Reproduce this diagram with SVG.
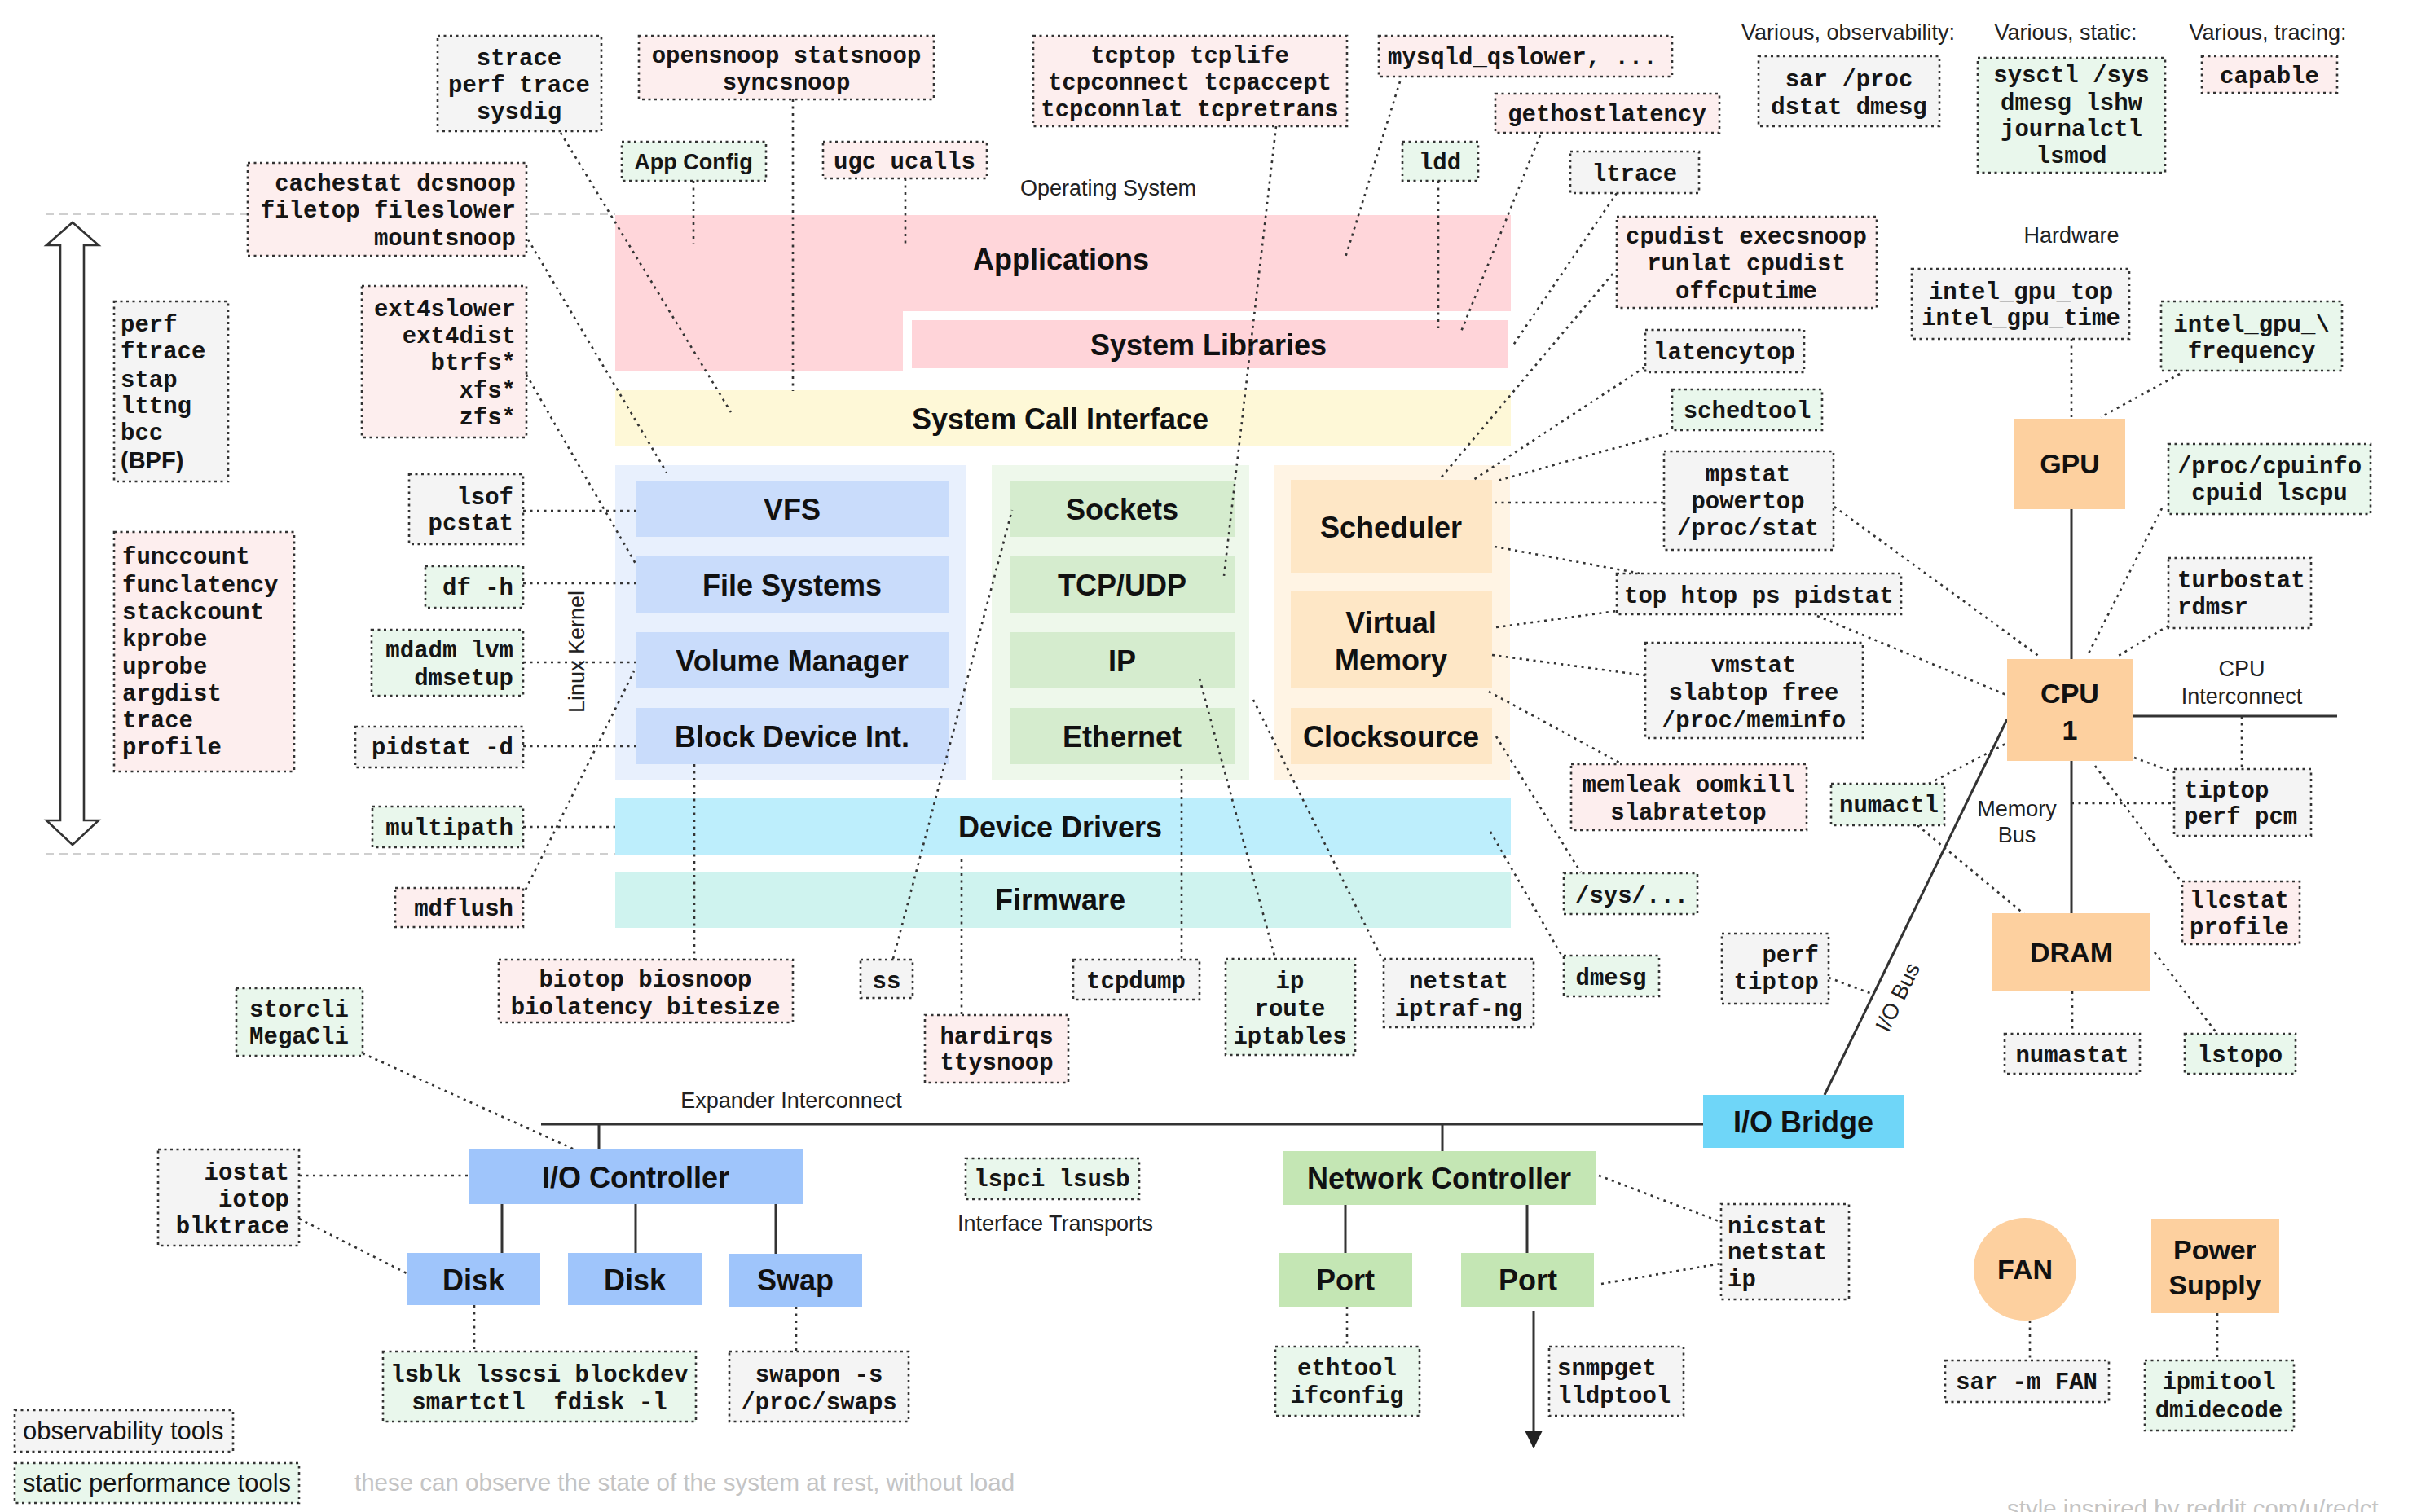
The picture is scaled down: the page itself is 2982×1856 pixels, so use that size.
<svg xmlns="http://www.w3.org/2000/svg" width="2982" height="1856" viewBox="0 0 2982 1856">
<defs>
<style>
.m{font-family:"Liberation Mono","Courier New",monospace;font-weight:bold;font-size:29px;fill:#151515}
.L{font-family:"Liberation Sans",Arial,sans-serif;font-weight:bold;font-size:36px;fill:#111;text-anchor:middle}
.H{font-family:"Liberation Sans",Arial,sans-serif;font-weight:bold;font-size:34px;fill:#111;text-anchor:middle}
.s{font-family:"Liberation Sans",Arial,sans-serif;font-size:27px;fill:#222;text-anchor:middle}
.g{font-family:"Liberation Sans",Arial,sans-serif;font-size:29.5px;fill:#c4c4c4}
.lg{font-family:"Liberation Sans",Arial,sans-serif;font-size:31px;fill:#151515}
.mid{text-anchor:middle}.end{text-anchor:end}
.obs{fill:#f4f4f4;stroke:#333;stroke-width:2.6;stroke-dasharray:3 4.5}
.trc{fill:#fdeeee;stroke:#333;stroke-width:2.6;stroke-dasharray:3 4.5}
.sta{fill:#e9f7ec;stroke:#333;stroke-width:2.6;stroke-dasharray:3 4.5}
.c{fill:none;stroke:#333;stroke-width:2.6;stroke-dasharray:3 5.5}
.w{fill:none;stroke:#333;stroke-width:3}
.dg{fill:none;stroke:#cfcfcf;stroke-width:2;stroke-dasharray:10 7}
.og{fill:#fdd09f}
</style>
<marker id="ah" viewBox="0 0 10 10" refX="9" refY="5" markerWidth="7" markerHeight="7" orient="auto"><path d="M0,0 L10,5 L0,10 Z" fill="#222"/></marker>
</defs>
<rect width="2982" height="1856" fill="#ffffff"/>

<!-- background guides -->
<g id="guides">
<line class="dg" x1="56" y1="263" x2="755" y2="263"/>
<line class="dg" x1="56" y1="1048" x2="755" y2="1048"/>
<polygon points="89,273 121,301 103,301 103,1007 121,1007 89,1037 57,1007 74,1007 74,301 57,301" fill="#fff" stroke="#333" stroke-width="2.6"/>
</g>

<!-- OS layers -->
<g id="applications"><path d="M755,264 H1854 V382 H1108 V455 H755 Z" fill="#ffd6da"/><text class="L" x="1302" y="331">Applications</text></g>
<g id="system-libraries"><rect x="1119" y="393" width="731" height="59" fill="#ffd4d9"/><text class="L" x="1483" y="436">System Libraries</text></g>
<g id="syscall"><rect x="755" y="479" width="1099" height="69" fill="#fef8d7"/><text class="L" x="1301" y="527">System Call Interface</text></g>
<g id="vfs-group"><rect x="755" y="571" width="430" height="387" fill="#e8f0fd"/></g>
<g id="net-group"><rect x="1217" y="571" width="316" height="387" fill="#eef8eb"/></g>
<g id="sched-group"><rect x="1563" y="571" width="290" height="387" fill="#fff4e4"/></g>
<g id="vfs"><rect x="780" y="590" width="384" height="69" fill="#c9dcfb"/><text class="L" x="972" y="638">VFS</text></g>
<g id="file-systems"><rect x="780" y="683" width="384" height="69" fill="#c9dcfb"/><text class="L" x="972" y="731">File Systems</text></g>
<g id="volume-manager"><rect x="780" y="776" width="384" height="69" fill="#c9dcfb"/><text class="L" x="972" y="824">Volume Manager</text></g>
<g id="block-device"><rect x="780" y="869" width="384" height="69" fill="#c9dcfb"/><text class="L" x="972" y="917">Block Device Int.</text></g>
<g id="sockets"><rect x="1239" y="590" width="276" height="69" fill="#d5ecce"/><text class="L" x="1377" y="638">Sockets</text></g>
<g id="tcpudp"><rect x="1239" y="683" width="276" height="69" fill="#d5ecce"/><text class="L" x="1377" y="731">TCP/UDP</text></g>
<g id="ip"><rect x="1239" y="776" width="276" height="69" fill="#d5ecce"/><text class="L" x="1377" y="824">IP</text></g>
<g id="ethernet"><rect x="1239" y="869" width="276" height="69" fill="#d5ecce"/><text class="L" x="1377" y="917">Ethernet</text></g>
<g id="scheduler"><rect x="1584" y="589" width="247" height="114" fill="#fee7c6"/><text class="L" x="1707" y="660">Scheduler</text></g>
<g id="virtual-memory"><rect x="1584" y="726" width="247" height="119" fill="#fee7c6"/><text class="L" x="1707" y="777">Virtual</text><text class="L" x="1707" y="823">Memory</text></g>
<g id="clocksource"><rect x="1584" y="869" width="247" height="69" fill="#fee7c6"/><text class="L" x="1707" y="917">Clocksource</text></g>
<g id="device-drivers"><rect x="755" y="980" width="1099" height="69" fill="#bdeefc"/><text class="L" x="1301" y="1028">Device Drivers</text></g>
<g id="firmware"><rect x="755" y="1070" width="1099" height="69" fill="#cff3ef"/><text class="L" x="1301" y="1117">Firmware</text></g>

<!-- connectors -->
<g id="connectors">
<line class="c" x1="688" y1="163" x2="897" y2="506"/>
<line class="c" x1="648" y1="294" x2="818" y2="580"/>
<line class="c" x1="646" y1="460" x2="780" y2="692"/>
<line class="c" x1="642" y1="627" x2="780" y2="627"/>
<line class="c" x1="642" y1="716" x2="780" y2="716"/>
<line class="c" x1="642" y1="813" x2="780" y2="813"/>
<line class="c" x1="642" y1="916" x2="780" y2="916"/>
<line class="c" x1="642" y1="1015" x2="755" y2="1015"/>
<line class="c" x1="645" y1="1092" x2="778" y2="824"/>
<line class="c" x1="973" y1="122" x2="973" y2="480"/>
<line class="c" x1="851" y1="222" x2="851" y2="300"/>
<line class="c" x1="1111" y1="219" x2="1111" y2="304"/>
<line class="c" x1="1566" y1="155" x2="1502" y2="707"/>
<line class="c" x1="1718" y1="100" x2="1651" y2="316"/>
<line class="c" x1="1890" y1="166" x2="1793" y2="407"/>
<line class="c" x1="1765" y1="222" x2="1765" y2="403"/>
<line class="c" x1="1984" y1="237" x2="1856" y2="425"/>
<line class="c" x1="1979" y1="336" x2="1766" y2="589"/>
<line class="c" x1="2018" y1="451" x2="1805" y2="591"/>
<line class="c" x1="2047" y1="532" x2="1834" y2="591"/>
<line class="c" x1="1834" y1="617" x2="2042" y2="617"/>
<line class="c" x1="1834" y1="671" x2="2013" y2="704"/>
<line class="c" x1="1836" y1="770" x2="1984" y2="750"/>
<line class="c" x1="1831" y1="804" x2="2019" y2="829"/>
<line class="c" x1="1827" y1="849" x2="1989" y2="937"/>
<line class="c" x1="1836" y1="904" x2="1940" y2="1071"/>
<line class="c" x1="1829" y1="1021" x2="1916" y2="1172"/>
<line class="c" x1="1472" y1="833" x2="1565" y2="1177"/>
<line class="c" x1="1538" y1="859" x2="1696" y2="1177"/>
<line class="c" x1="1450" y1="944" x2="1450" y2="1178"/>
<line class="c" x1="1096" y1="1177" x2="1242" y2="626"/>
<line class="c" x1="852" y1="938" x2="852" y2="1178"/>
<line class="c" x1="1180" y1="1055" x2="1180" y2="1246"/>
<line class="c" x1="445" y1="1293" x2="705" y2="1411"/>
<line class="c" x1="367" y1="1443" x2="575" y2="1443"/>
<line class="c" x1="367" y1="1496" x2="499" y2="1563"/>
<line class="c" x1="582" y1="1602" x2="582" y2="1659"/>
<line class="c" x1="977" y1="1604" x2="977" y2="1659"/>
<line class="c" x1="1653" y1="1604" x2="1653" y2="1653"/>
<line class="c" x1="1962" y1="1443" x2="2112" y2="1500"/>
<line class="c" x1="1965" y1="1576" x2="2112" y2="1551"/>
<line class="c" x1="2251" y1="622" x2="2503" y2="806"/>
<line class="c" x1="2230" y1="756" x2="2462" y2="853"/>
<line class="c" x1="2542" y1="416" x2="2542" y2="512"/>
<line class="c" x1="2675" y1="459" x2="2578" y2="512"/>
<line class="c" x1="2653" y1="624" x2="2561" y2="806"/>
<line class="c" x1="2661" y1="768" x2="2598" y2="806"/>
<line class="c" x1="2619" y1="930" x2="2668" y2="948"/>
<line class="c" x1="2751" y1="879" x2="2751" y2="944"/>
<line class="c" x1="2542" y1="986" x2="2668" y2="986"/>
<line class="c" x1="2367" y1="962" x2="2463" y2="912"/>
<line class="c" x1="2353" y1="1013" x2="2484" y2="1122"/>
<line class="c" x1="2571" y1="940" x2="2675" y2="1080"/>
<line class="c" x1="2543" y1="1217" x2="2543" y2="1269"/>
<line class="c" x1="2644" y1="1169" x2="2721" y2="1269"/>
<line class="c" x1="2491" y1="1621" x2="2491" y2="1670"/>
<line class="c" x1="2721" y1="1612" x2="2721" y2="1670"/>
<line class="c" x1="2244" y1="1200" x2="2297" y2="1220"/>
<line class="w" x1="2542" y1="625" x2="2542" y2="809"/>
<line class="w" x1="2542" y1="934" x2="2542" y2="1121"/>
<line class="w" x1="2617" y1="879" x2="2868" y2="879"/>
<line class="w" x1="2463" y1="883" x2="2239" y2="1344"/>
<line class="w" x1="664" y1="1380" x2="2090" y2="1380"/>
<line class="w" x1="735" y1="1380" x2="735" y2="1411"/>
<line class="w" x1="1770" y1="1380" x2="1770" y2="1413"/>
<line class="w" x1="616" y1="1478" x2="616" y2="1538"/>
<line class="w" x1="780" y1="1478" x2="780" y2="1538"/>
<line class="w" x1="952" y1="1478" x2="952" y2="1539"/>
<line class="w" x1="1651" y1="1479" x2="1651" y2="1538"/>
<line class="w" x1="1874" y1="1479" x2="1874" y2="1538"/>
<line class="w" x1="1882" y1="1609" x2="1882" y2="1776" marker-end="url(#ah)"/>
</g>

<!-- hardware nodes -->
<g id="io-controller"><rect x="575" y="1411" width="411" height="67" fill="#9fc5fb"/><text class="L" x="780" y="1458">I/O Controller</text></g>
<g id="disk1"><rect x="499" y="1538" width="164" height="64" fill="#9fc5fb"/><text class="L" x="581" y="1584">Disk</text></g>
<g id="disk2"><rect x="697" y="1538" width="164" height="64" fill="#9fc5fb"/><text class="L" x="779" y="1584">Disk</text></g>
<g id="swap"><rect x="894" y="1539" width="164" height="65" fill="#9fc5fb"/><text class="L" x="976" y="1584">Swap</text></g>
<g id="network-controller"><rect x="1574" y="1413" width="384" height="66" fill="#c4e6b4"/><text class="L" x="1766" y="1459">Network Controller</text></g>
<g id="port1"><rect x="1569" y="1538" width="164" height="66" fill="#c4e6b4"/><text class="L" x="1651" y="1584">Port</text></g>
<g id="port2"><rect x="1793" y="1538" width="163" height="66" fill="#c4e6b4"/><text class="L" x="1875" y="1584">Port</text></g>
<g id="io-bridge"><rect x="2090" y="1344" width="247" height="65" fill="#6fd6f8"/><text class="L" x="2213" y="1390">I/O Bridge</text></g>
<g id="gpu"><rect class="og" x="2472" y="514" width="136" height="111"/><text class="H" x="2540" y="581">GPU</text></g>
<g id="cpu"><rect class="og" x="2463" y="809" width="154" height="125"/><text class="H" x="2540" y="863">CPU</text><text class="H" x="2540" y="908">1</text></g>
<g id="dram"><rect class="og" x="2445" y="1121" width="194" height="96"/><text class="H" x="2542" y="1181">DRAM</text></g>
<g id="fan"><circle class="og" cx="2485" cy="1558" r="63"/><text class="H" x="2485" y="1570">FAN</text></g>
<g id="power-supply"><rect class="og" x="2640" y="1496" width="157" height="116"/><text class="H" x="2718" y="1546">Power</text><text class="H" x="2718" y="1589">Supply</text></g>

<!-- labels -->
<g id="labels">
<text class="s" x="1360" y="240">Operating System</text>
<text class="s" x="2542" y="298">Hardware</text>
<text class="s" x="2268" y="49">Various, observability:</text>
<text class="s" x="2535" y="49">Various, static:</text>
<text class="s" x="2783" y="49">Various, tracing:</text>
<text class="s" x="2751" y="830">CPU</text>
<text class="s" x="2751" y="864">Interconnect</text>
<text class="s" x="2475" y="1002">Memory</text>
<text class="s" x="2475" y="1034">Bus</text>
<text class="s" x="971" y="1360">Expander Interconnect</text>
<text class="s" x="1295" y="1511">Interface Transports</text>
<text class="s" transform="translate(717,800) rotate(-90)">Linux Kernel</text>
<text class="s" transform="translate(2337,1228) rotate(-64)">I/O Bus</text>
<text class="g" x="435" y="1830">these can observe the state of the system at rest, without load</text>
<text class="g" x="2463" y="1862">style inspired by reddit.com/u/redct</text>
</g>

<!-- tool boxes -->
<g id="t-strace"><rect class="obs" x="537" y="44" width="201" height="117"/><text class="m mid" x="637" y="80">strace</text><text class="m mid" x="637" y="113">perf trace</text><text class="m mid" x="637" y="146">sysdig</text></g>
<g id="t-opensnoop"><rect class="trc" x="784" y="44" width="362" height="78"/><text class="m mid" x="965" y="77">opensnoop statsnoop</text><text class="m mid" x="965" y="110">syncsnoop</text></g>
<g id="t-tcptop"><rect class="trc" x="1268" y="44" width="385" height="111"/><text class="m mid" x="1460" y="77">tcptop tcplife</text><text class="m mid" x="1460" y="110">tcpconnect tcpaccept</text><text class="m mid" x="1460" y="143">tcpconnlat tcpretrans</text></g>
<g id="t-mysqld"><rect class="trc" x="1692" y="44" width="360" height="50"/><text class="m" x="1703" y="79">mysqld_qslower, ...</text></g>
<g id="t-gethostlatency"><rect class="trc" x="1835" y="115" width="275" height="48"/><text class="m mid" x="1972" y="149">gethostlatency</text></g>
<g id="t-ldd"><rect class="sta" x="1721" y="174" width="93" height="48"/><text class="m mid" x="1767" y="208">ldd</text></g>
<g id="t-ltrace"><rect class="obs" x="1927" y="186" width="158" height="51"/><text class="m mid" x="2006" y="222">ltrace</text></g>
<g id="t-cpudist"><rect class="trc" x="1984" y="266" width="319" height="112"/><text class="m mid" x="2143" y="299">cpudist execsnoop</text><text class="m mid" x="2143" y="332">runlat cpudist</text><text class="m mid" x="2143" y="366">offcputime</text></g>
<g id="t-latencytop"><rect class="obs" x="2019" y="405" width="195" height="52"/><text class="m mid" x="2116" y="441">latencytop</text></g>
<g id="t-schedtool"><rect class="sta" x="2052" y="478" width="184" height="50"/><text class="m mid" x="2144" y="513">schedtool</text></g>
<g id="t-mpstat"><rect class="obs" x="2042" y="554" width="208" height="121"/><text class="m mid" x="2145" y="591">mpstat</text><text class="m mid" x="2145" y="624">powertop</text><text class="m mid" x="2145" y="657">/proc/stat</text></g>
<g id="t-top"><rect class="obs" x="1984" y="704" width="349" height="50"/><text class="m" x="1993" y="740">top htop ps pidstat</text></g>
<g id="t-vmstat"><rect class="obs" x="2019" y="789" width="267" height="117"/><text class="m mid" x="2152" y="825">vmstat</text><text class="m mid" x="2152" y="859">slabtop free</text><text class="m mid" x="2152" y="893">/proc/meminfo</text></g>
<g id="t-memleak"><rect class="trc" x="1928" y="938" width="289" height="81"/><text class="m mid" x="2072" y="972">memleak oomkill</text><text class="m mid" x="2072" y="1006">slabratetop</text></g>
<g id="t-sys"><rect class="sta" x="1919" y="1072" width="164" height="50"/><text class="m" x="1933" y="1108">/sys/...</text></g>
<g id="t-dmesg"><rect class="sta" x="1919" y="1173" width="117" height="50"/><text class="m mid" x="1977" y="1209">dmesg</text></g>
<g id="t-perftiptop"><rect class="obs" x="2113" y="1146" width="131" height="86"/><text class="m end" x="2232" y="1181">perf</text><text class="m end" x="2232" y="1214">tiptop</text></g>
<g id="t-sar"><rect class="obs" x="2158" y="69" width="222" height="86"/><text class="m mid" x="2269" y="106">sar /proc</text><text class="m mid" x="2269" y="140">dstat dmesg</text></g>
<g id="t-sysctl"><rect class="sta" x="2427" y="71" width="230" height="141"/><text class="m mid" x="2542" y="101">sysctl /sys</text><text class="m mid" x="2542" y="135">dmesg lshw</text><text class="m mid" x="2542" y="167">journalctl</text><text class="m mid" x="2542" y="200">lsmod</text></g>
<g id="t-capable"><rect class="trc" x="2702" y="69" width="166" height="45"/><text class="m mid" x="2785" y="102">capable</text></g>
<g id="t-intelgputop"><rect class="obs" x="2346" y="330" width="267" height="86"/><text class="m mid" x="2480" y="367">intel_gpu_top</text><text class="m mid" x="2480" y="399">intel_gpu_time</text></g>
<g id="t-intelgpufreq"><rect class="sta" x="2652" y="370" width="222" height="85"/><text class="m mid" x="2763" y="407">intel_gpu_\</text><text class="m mid" x="2763" y="440">frequency</text></g>
<g id="t-cpuinfo"><rect class="sta" x="2661" y="545" width="248" height="86"/><text class="m mid" x="2785" y="581">/proc/cpuinfo</text><text class="m mid" x="2785" y="614">cpuid lscpu</text></g>
<g id="t-turbostat"><rect class="obs" x="2661" y="685" width="175" height="86"/><text class="m" x="2672" y="721">turbostat</text><text class="m" x="2672" y="754">rdmsr</text></g>
<g id="t-tiptop"><rect class="obs" x="2668" y="944" width="168" height="82"/><text class="m" x="2680" y="979">tiptop</text><text class="m" x="2680" y="1011">perf pcm</text></g>
<g id="t-llcstat"><rect class="trc" x="2678" y="1082" width="144" height="77"/><text class="m" x="2687" y="1114">llcstat</text><text class="m" x="2687" y="1147">profile</text></g>
<g id="t-numactl"><rect class="sta" x="2247" y="962" width="139" height="51"/><text class="m" x="2257" y="997">numactl</text></g>
<g id="t-numastat"><rect class="obs" x="2460" y="1269" width="166" height="49"/><text class="m mid" x="2543" y="1304">numastat</text></g>
<g id="t-lstopo"><rect class="sta" x="2681" y="1269" width="136" height="49"/><text class="m mid" x="2749" y="1304">lstopo</text></g>
<g id="t-sarfan"><rect class="obs" x="2387" y="1670" width="201" height="51"/><text class="m mid" x="2487" y="1705">sar -m FAN</text></g>
<g id="t-ipmitool"><rect class="sta" x="2632" y="1670" width="183" height="86"/><text class="m mid" x="2723" y="1705">ipmitool</text><text class="m mid" x="2723" y="1740">dmidecode</text></g>
<g id="t-nicstat"><rect class="obs" x="2112" y="1478" width="157" height="117"/><text class="m" x="2120" y="1514">nicstat</text><text class="m" x="2120" y="1546">netstat</text><text class="m" x="2120" y="1579">ip</text></g>
<g id="t-snmpget"><rect class="obs" x="1901" y="1653" width="165" height="85"/><text class="m" x="1911" y="1688">snmpget</text><text class="m" x="1911" y="1722">lldptool</text></g>
<g id="t-ethtool"><rect class="sta" x="1565" y="1653" width="177" height="85"/><text class="m mid" x="1653" y="1688">ethtool</text><text class="m mid" x="1653" y="1722">ifconfig</text></g>
<g id="t-lspci"><rect class="sta" x="1185" y="1422" width="213" height="50"/><text class="m mid" x="1291" y="1456">lspci lsusb</text></g>
<g id="t-swapon"><rect class="obs" x="895" y="1659" width="220" height="86"/><text class="m mid" x="1005" y="1696">swapon -s</text><text class="m mid" x="1005" y="1730">/proc/swaps</text></g>
<g id="t-lsblk"><rect class="sta" x="470" y="1659" width="384" height="86"/><text class="m mid" x="662" y="1696">lsblk lsscsi blockdev</text><text class="m mid" x="662" y="1730" xml:space="preserve">smartctl  fdisk -l</text></g>
<g id="t-iostat"><rect class="obs" x="194" y="1411" width="173" height="118"/><text class="m end" x="355" y="1448">iostat</text><text class="m end" x="355" y="1481">iotop</text><text class="m end" x="355" y="1514">blktrace</text></g>
<g id="t-storcli"><rect class="sta" x="290" y="1213" width="155" height="83"/><text class="m mid" x="367" y="1248">storcli</text><text class="m mid" x="367" y="1281">MegaCli</text></g>
<g id="t-biotop"><rect class="trc" x="612" y="1178" width="361" height="77"/><text class="m mid" x="792" y="1211">biotop biosnoop</text><text class="m mid" x="792" y="1245">biolatency bitesize</text></g>
<g id="t-ss"><rect class="obs" x="1056" y="1178" width="64" height="47"/><text class="m mid" x="1088" y="1213">ss</text></g>
<g id="t-tcpdump"><rect class="obs" x="1317" y="1178" width="155" height="49"/><text class="m mid" x="1394" y="1213">tcpdump</text></g>
<g id="t-iproute"><rect class="sta" x="1504" y="1177" width="159" height="118"/><text class="m mid" x="1583" y="1213">ip</text><text class="m mid" x="1583" y="1247">route</text><text class="m mid" x="1583" y="1281">iptables</text></g>
<g id="t-netstat"><rect class="obs" x="1698" y="1177" width="184" height="84"/><text class="m mid" x="1790" y="1213">netstat</text><text class="m mid" x="1790" y="1247">iptraf-ng</text></g>
<g id="t-hardirqs"><rect class="trc" x="1135" y="1246" width="176" height="83"/><text class="m mid" x="1223" y="1281">hardirqs</text><text class="m mid" x="1223" y="1313">ttysnoop</text></g>
<g id="t-mdflush"><rect class="trc" x="485" y="1090" width="157" height="48"/><text class="m end" x="630" y="1124">mdflush</text></g>
<g id="t-multipath"><rect class="sta" x="457" y="990" width="185" height="50"/><text class="m end" x="630" y="1025">multipath</text></g>
<g id="t-pidstat"><rect class="obs" x="436" y="892" width="206" height="50"/><text class="m end" x="630" y="926">pidstat -d</text></g>
<g id="t-mdadm"><rect class="sta" x="456" y="773" width="186" height="81"/><text class="m end" x="630" y="807">mdadm lvm</text><text class="m end" x="630" y="841">dmsetup</text></g>
<g id="t-df"><rect class="sta" x="522" y="695" width="120" height="51"/><text class="m end" x="630" y="730">df -h</text></g>
<g id="t-lsof"><rect class="obs" x="502" y="582" width="140" height="86"/><text class="m end" x="630" y="619">lsof</text><text class="m end" x="630" y="651">pcstat</text></g>
<g id="t-ext4"><rect class="trc" x="444" y="351" width="202" height="186"/><text class="m end" x="633" y="388">ext4slower</text><text class="m end" x="633" y="421">ext4dist</text><text class="m end" x="633" y="454">btrfs*</text><text class="m end" x="633" y="488">xfs*</text><text class="m end" x="633" y="521">zfs*</text></g>
<g id="t-cachestat"><rect class="trc" x="304" y="200" width="342" height="114"/><text class="m end" x="633" y="234">cachestat dcsnoop</text><text class="m end" x="633" y="267">filetop fileslower</text><text class="m end" x="633" y="301">mountsnoop</text></g>
<g id="t-perf"><rect class="obs" x="140" y="370" width="140" height="221"/><text class="m" x="148" y="407">perf</text><text class="m" x="148" y="440">ftrace</text><text class="m" x="148" y="475">stap</text><text class="m" x="148" y="507">lttng</text><text class="m" x="148" y="540">bcc</text><text x="148" y="575" style="font-family:'Liberation Sans',Arial,sans-serif;font-weight:bold;font-size:29px;fill:#151515">(BPF)</text></g>
<g id="t-funccount"><rect class="trc" x="140" y="653" width="221" height="294"/><text class="m" x="150" y="692">funccount</text><text class="m" x="150" y="727">funclatency</text><text class="m" x="150" y="760">stackcount</text><text class="m" x="150" y="793">kprobe</text><text class="m" x="150" y="827">uprobe</text><text class="m" x="150" y="860">argdist</text><text class="m" x="150" y="893">trace</text><text class="m" x="150" y="926">profile</text></g>
<g id="t-appconfig"><rect class="sta" x="763" y="174" width="177" height="48"/><text x="851" y="208" style="font-family:'Liberation Sans',Arial,sans-serif;font-weight:bold;font-size:27px;fill:#151515;text-anchor:middle">App Config</text></g>
<g id="t-ugc"><rect class="trc" x="1010" y="174" width="201" height="45"/><text class="m mid" x="1110" y="207">ugc ucalls</text></g>

<!-- legend -->
<g id="legend-obs"><rect class="obs" x="18" y="1731" width="268" height="51"/><text class="lg" x="28" y="1767">observability tools</text></g>
<g id="legend-static"><rect class="sta" x="18" y="1796" width="349" height="49"/><text class="lg" x="28" y="1831">static performance tools</text></g>
</svg>
